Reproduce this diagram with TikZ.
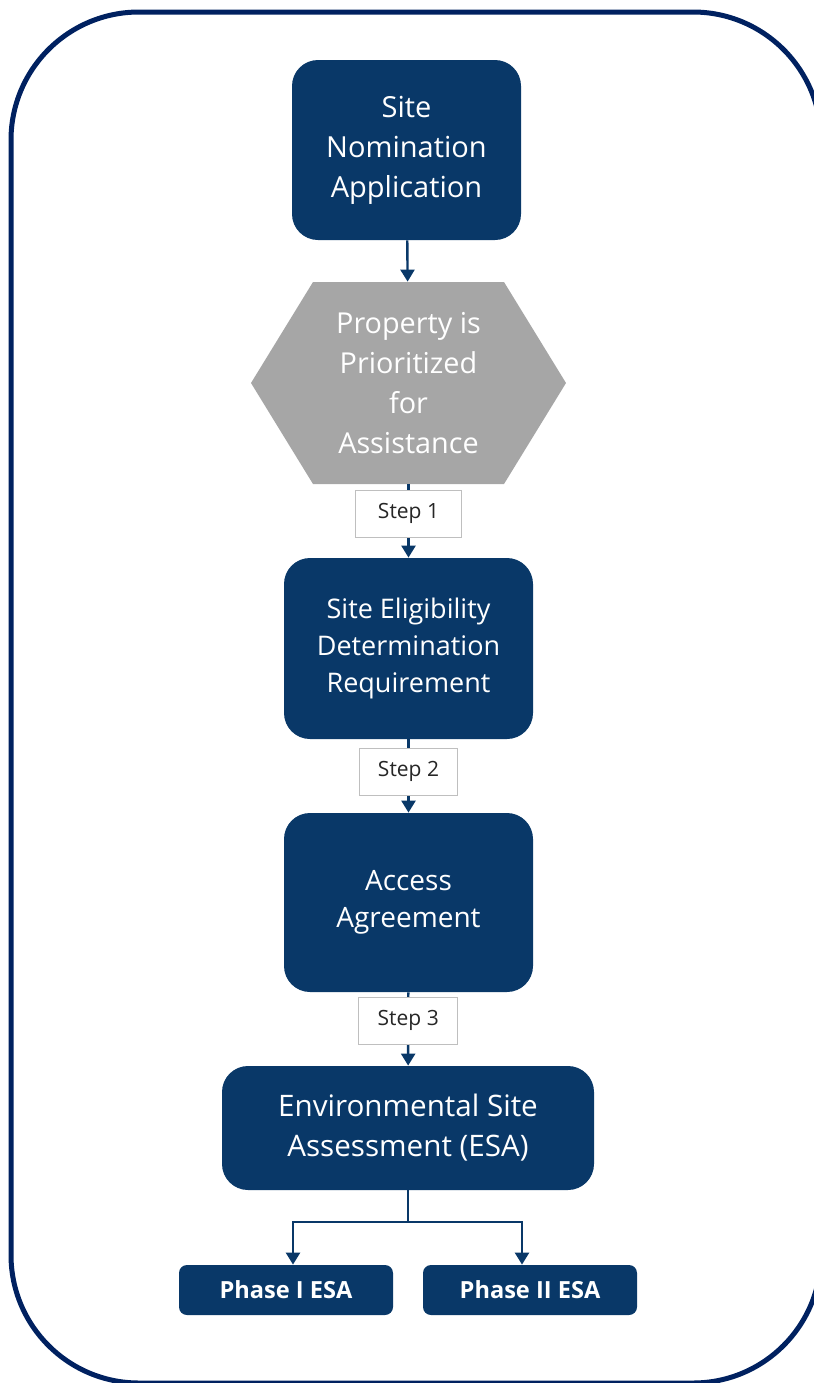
\documentclass[tikz,border=0pt]{standalone}
\usepackage{fontspec}
\setmainfont{Open Sans}
\usepackage{tikz}
\usetikzlibrary{arrows.meta}

\definecolor{navy}{RGB}{9,56,104}
\definecolor{framenavy}{RGB}{0,33,96}
\definecolor{hexgray}{RGB}{166,166,166}

\begin{document}
\begin{tikzpicture}[
                x=0.5pt, y=-0.5pt,
                every node/.style={
                        align=center,
                        text=white
                    },
                box/.style={
                        fill=navy,
                        rounded corners=13pt,
                        inner sep=2pt
                    },
                phasebox/.style={
                        fill=navy,
                        rounded corners=4pt,
                        minimum width=107pt,
                        minimum height=25pt,
                        font=\fontsize{11.8}{14}\selectfont\bfseries
                    },
                hexbox/.style={
                        fill=white,
                        minimum width=157.5pt,
                        minimum height=101pt,
                        path picture={
                                \fill[hexgray] (path picture bounding box.west)
                                    -- ([xshift=31pt]path picture bounding box.north west)
                                    -- ([xshift=-31pt]path picture bounding box.north east)
                                    -- (path picture bounding box.east)
                                    -- ([xshift=-31pt]path picture bounding box.south east)
                                    -- ([xshift=31pt]path picture bounding box.south west)
                                    -- cycle;
                            }
                    },
                steplabel/.style={
                        draw=black!25,
                        line width=0.5pt,
                        fill=white,
                        text=black!85,
                        minimum height=23.5pt,
                        font=\fontsize{10.5}{12}\selectfont
                    },
                flow/.style={
                        draw=navy,
                        line width=1.2pt,
                        -{Triangle[length=6pt,width=7pt]}
                    }
            ]

            \useasboundingbox (0,0) rectangle (814,1383);

            % Outer frame, right and bottom sides run off the page
            \draw[framenavy, line width=2.5pt, rounded corners=64pt] (11,12) rectangle (821,1383);

            % Process boxes
            \node[box, minimum width=114.5pt, minimum height=90pt,
                  font=\fontsize{14.5}{20}\selectfont] (site) at (406.5,150) {Site\\Nomination\\Application};
            \node[hexbox, font=\fontsize{14.4}{20}\selectfont] (prio) at (408.5,383) {Property is\\Prioritized\\for\\Assistance};
            \node[box, minimum width=124.5pt, minimum height=90.5pt,
                  font=\fontsize{13.5}{18.5}\selectfont] (elig) at (408.5,648.5) {Site Eligibility\\Determination\\Requirement};
            \node[box, minimum width=124.5pt, minimum height=89.5pt,
                  font=\fontsize{14}{18.5}\selectfont] (access) at (408.5,902.5) {Access\\Agreement};
            \node[box, minimum width=186pt, minimum height=62pt,
                  font=\fontsize{14.8}{20}\selectfont] (esa) at (408,1128) {Environmental Site\\Assessment (ESA)};

            % The two assessment phases
            \node[phasebox] (phaseone) at (286,1290) {Phase I ESA};
            \node[phasebox] (phasetwo) at (530,1290) {Phase II ESA};

            % Arrows with the step labels
            \draw[flow] (site) -- (prio);
            \draw[flow] (prio) -- (elig) node[steplabel, minimum width=53pt, pos=0.4] {Step 1};
            \draw[flow] (elig) -- (access) node[steplabel, minimum width=49pt, pos=0.44] {Step 2};
            \draw[flow] (access) -- (esa) node[steplabel, minimum width=49.5pt, pos=0.385] {Step 3};

            % Split into the two phases
            \coordinate (split) at (408,1222);
            \draw[navy, line width=1.2pt] (esa.south) -- (split);
            \draw[flow] (split) -| ([xshift=3.5pt]phaseone.north);
            \draw[flow] (split) -| ([xshift=-4pt]phasetwo.north);

        \end{tikzpicture}
\end{document}
